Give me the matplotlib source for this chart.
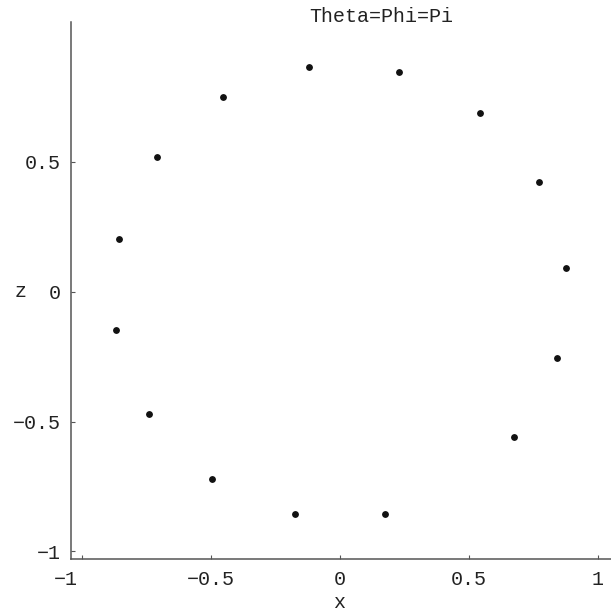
import matplotlib
matplotlib.use("Agg")
import matplotlib.pyplot as plt
from matplotlib.transforms import ScaledTranslation

# Data
x_vals = [-0.118, 0.232, 0.545, 0.772, 0.877, 0.843, 0.678, 0.178,
          -0.174, -0.495, -0.740, -0.866, -0.855, -0.709, -0.450]
z_vals = [0.866, 0.844, 0.689, 0.423, 0.092, -0.254, -0.560, -0.856,
          -0.856, -0.721, -0.471, -0.147, 0.201, 0.518, 0.750]

x_ticks = [-1, -0.5, 0, 0.5, 1]
x_tick_labels = ["\u22121", "\u22120.5", "0", "0.5", "1"]
z_ticks = [-1, -0.5, 0, 0.5]
z_tick_labels = ["\u22121", "\u22120.5", "0", "0.5"]
title = "Theta=Phi=Pi"
x_label = "x"
z_label = "z"

W, H = 611, 614
DPI = 100
FONT = "Liberation Mono"
FS = 14.4

fig = plt.figure(figsize=(W / DPI, H / DPI), dpi=DPI)
left_px, right_px, bottom_px, top_px = 70.7, 611.0, 558.7, 21.7
ax = fig.add_axes([left_px / W, 1 - bottom_px / H,
                   (right_px - left_px) / W, (bottom_px - top_px) / H])

xlo, xhi = -1.042, 1.052
ylo, yhi = -1.028, 1.039
ax.set_xlim(xlo, xhi)
ax.set_ylim(ylo, yhi)

ax.plot(x_vals, z_vals, linestyle="none", marker="o", markersize=3.9,
        color="#111111", clip_on=False)

for s in ["top", "right"]:
    ax.spines[s].set_visible(False)
for s in ["left", "bottom"]:
    ax.spines[s].set_color("#555555")
    ax.spines[s].set_linewidth(1.1)

ax.set_xticks(x_ticks)
ax.set_xticklabels(x_tick_labels)
ax.set_yticks(z_ticks)
ax.set_yticklabels(z_tick_labels)
ax.tick_params(axis="both", direction="in", length=3, width=0.8,
               color="#555555", labelsize=FS, labelcolor="#222222")
ax.tick_params(axis="x", pad=8)
ax.tick_params(axis="y", pad=7)
for lab in ax.get_xticklabels() + ax.get_yticklabels():
    lab.set_fontfamily(FONT)

# shift the "-1" x tick label left as in the reference
xl = ax.get_xticklabels()[0]
xl.set_transform(xl.get_transform() + ScaledTranslation(-16 / DPI, 0, fig.dpi_scale_trans))

ax.set_xlabel(x_label, fontfamily=FONT, fontsize=FS, color="#222222")
ax.xaxis.set_label_coords((0 - xlo) / (xhi - xlo), (bottom_px - 603) / (bottom_px - top_px))
ax.xaxis.label.set_va("center")

ax.set_ylabel(z_label, fontfamily=FONT, fontsize=FS, color="#222222", rotation=0)
ax.yaxis.set_label_coords((20.5 - left_px) / (right_px - left_px), (0 - ylo) / (yhi - ylo))
ax.yaxis.label.set_va("center")
ax.yaxis.label.set_ha("center")

fig.text(381 / W, 1 - 16 / H, title, fontfamily=FONT, fontsize=FS,
         color="#222222", ha="center", va="center")

fig.savefig("out.png", dpi=DPI)
